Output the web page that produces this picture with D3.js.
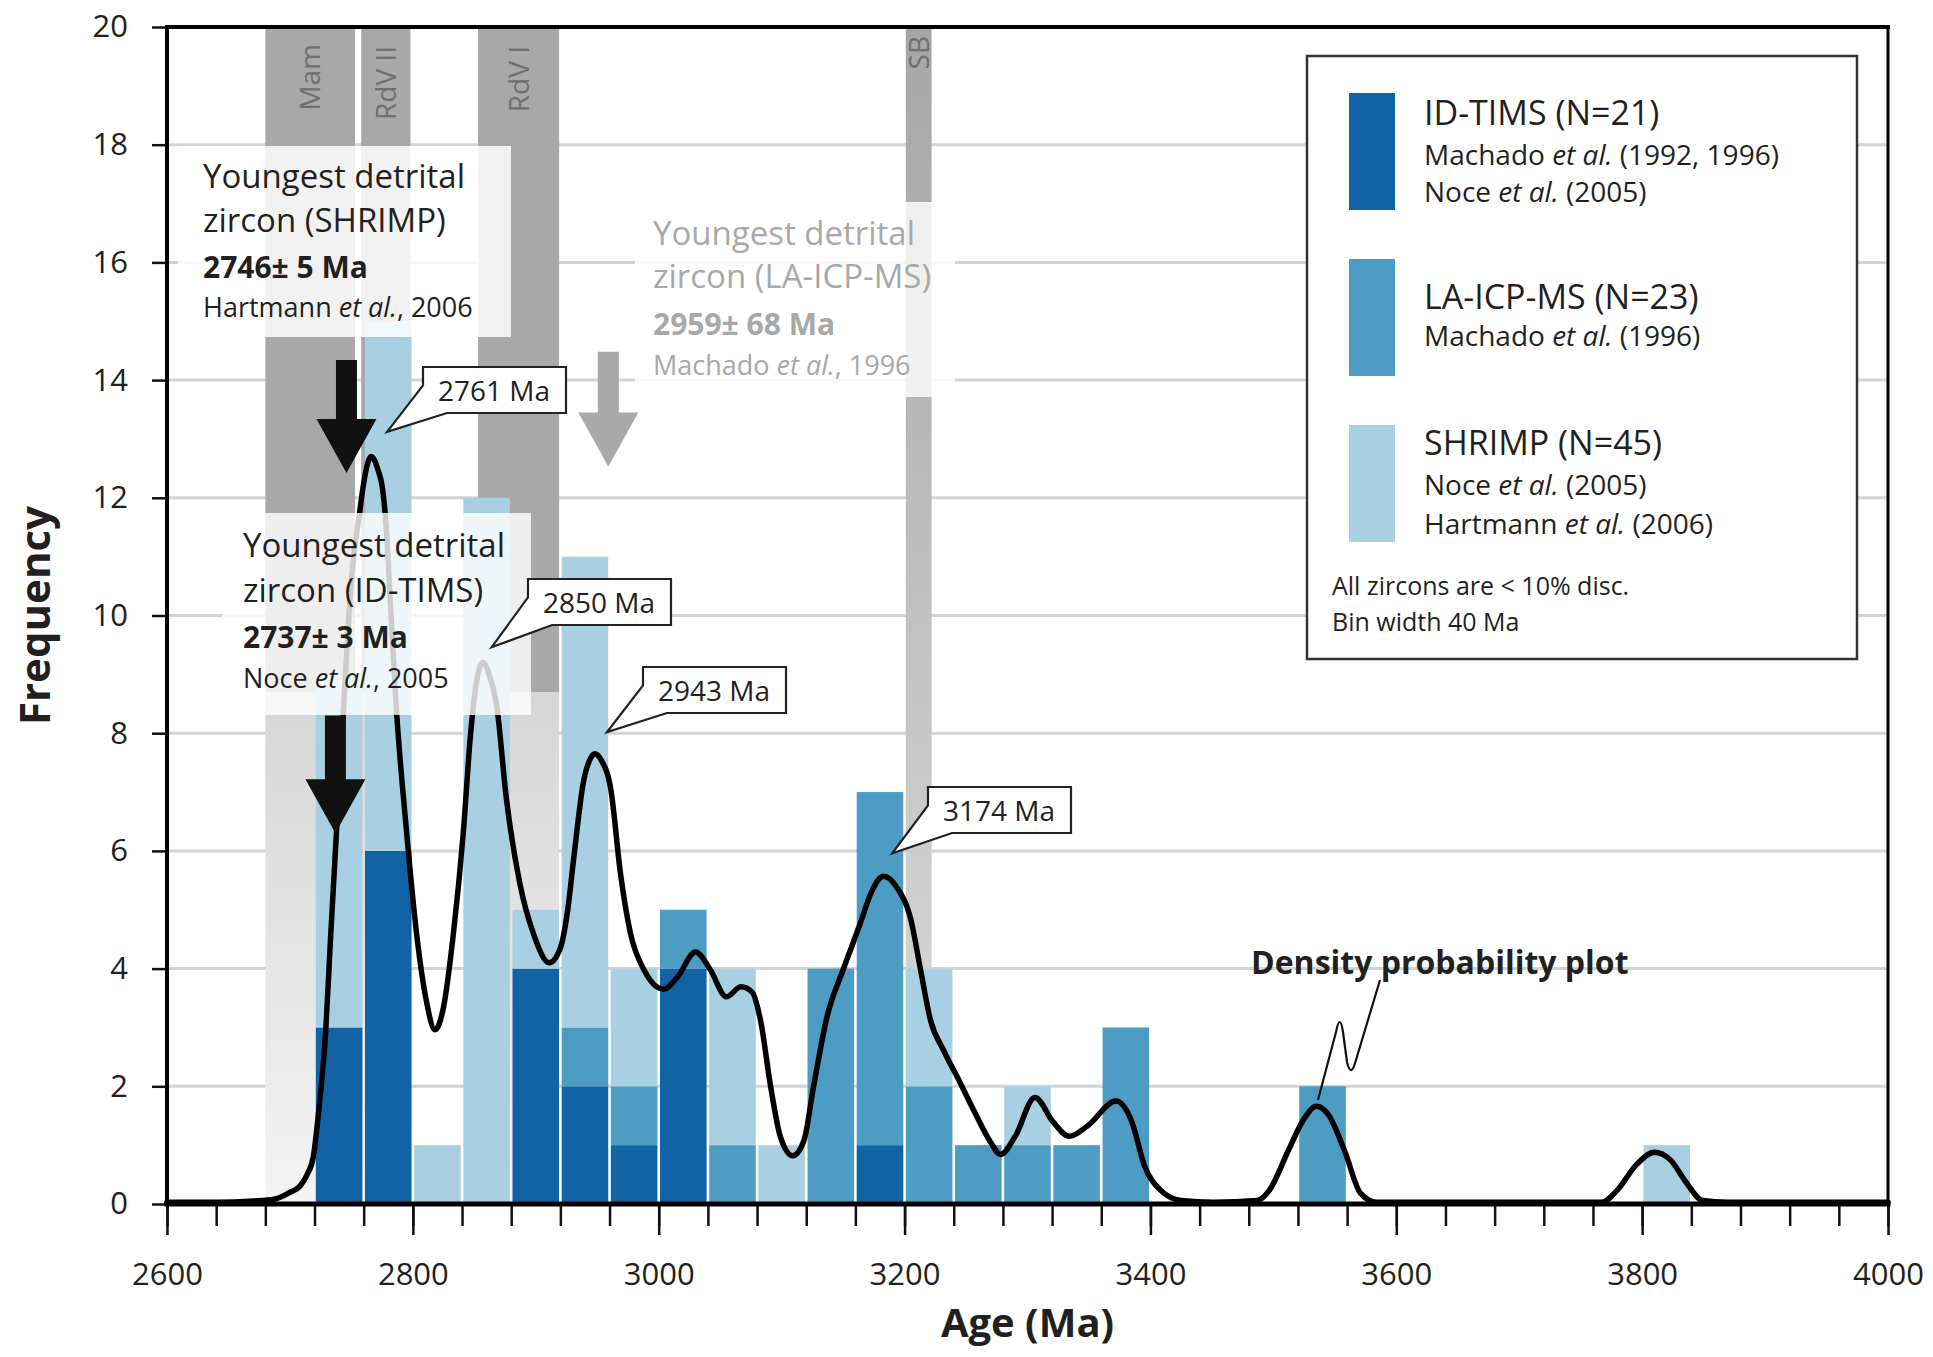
<!DOCTYPE html>
<html>
<head>
<meta charset="utf-8">
<script src="https://cdn.jsdelivr.net/npm/d3@7"></script>
<style>
  html, body { margin: 0; padding: 0; background: #fff; }
  svg { display: block; font-family: "Open Sans", "Noto Sans", sans-serif; }
</style>
</head>
<body>
<svg id="chart" width="1933" height="1357"></svg>
<script>
// ---------- data ----------
// Histogram bins (lower edge, Ma); bin width 40 Ma
const binStarts = [2720, 2760, 2800, 2840, 2880, 2920, 2960, 3000, 3040, 3080, 3120, 3160, 3200, 3240, 3280, 3320, 3360, 3520, 3800];
const binWidth = 40;
const idTimsCounts  = [3, 6, 0, 0, 4, 2, 1, 4, 0, 0, 0, 1, 0, 0, 0, 0, 0, 0, 0];
const laIcpmsCounts = [0, 0, 0, 0, 0, 1, 1, 1, 1, 0, 4, 6, 2, 1, 1, 1, 3, 2, 0];
const shrimpCounts  = [6, 9, 1, 12, 1, 8, 2, 0, 3, 1, 0, 0, 2, 0, 1, 0, 0, 0, 1];
const seriesNames = ["ID-TIMS", "LA-ICP-MS", "SHRIMP"];

// Density probability plot (age in Ma, frequency scale)
const densityAges = [2600, 2640, 2670, 2687, 2700, 2708, 2714, 2719, 2724, 2729, 2733, 2737, 2740, 2743, 2750, 2757, 2760, 2766, 2772, 2775,
  2778, 2782, 2786, 2795, 2803, 2811, 2818, 2825, 2833, 2841, 2847, 2852, 2857, 2862, 2868, 2876, 2887, 2898, 2911, 2920,
  2926, 2931, 2939, 2944, 2948, 2953, 2961, 2969, 2977, 2988, 3004, 3015, 3030, 3042, 3055, 3067, 3076, 3083, 3091, 3099,
  3109, 3118, 3126, 3137, 3150, 3164, 3173, 3183, 3194, 3205, 3213, 3221, 3232, 3245, 3258, 3270, 3278, 3290, 3306, 3321,
  3334, 3349, 3372, 3385, 3395, 3408, 3425, 3451, 3487, 3497, 3512, 3525, 3535, 3545, 3558, 3571, 3584, 3767, 3780, 3795,
  3810, 3823, 3836, 3849, 3870, 4000];
const densityValues = [0.03, 0.03, 0.05, 0.08, 0.2, 0.3, 0.5, 0.8, 1.7, 2.9, 4.5, 6.0, 7.1, 8.2, 10.6, 11.8, 12.25, 12.7, 12.45, 12.2,
  11.6, 10.1, 8.6, 6.3, 4.6, 3.45, 2.96, 3.35, 4.6, 6.3, 8.0, 8.9, 9.2, 9.0, 8.5, 6.9, 5.45, 4.6, 4.1, 4.35,
  5.0, 5.9, 7.2, 7.55, 7.65, 7.55, 7.05, 5.6, 4.6, 3.98, 3.65, 3.85, 4.28, 3.98, 3.52, 3.69, 3.6, 3.1, 2.0, 1.14,
  0.82, 1.07, 2.0, 3.19, 3.98, 4.77, 5.3, 5.57, 5.37, 4.84, 3.98, 3.13, 2.6, 2.07, 1.52, 1.05, 0.84, 1.15, 1.81, 1.39,
  1.15, 1.33, 1.75, 1.39, 0.66, 0.24, 0.06, 0.03, 0.06, 0.24, 0.9, 1.45, 1.66, 1.51, 0.9, 0.18, 0.03, 0.03, 0.24, 0.66,
  0.88, 0.75, 0.36, 0.06, 0.03, 0.03];

// Axis ticks
const xTickValues = [2600, 2800, 3000, 3200, 3400, 3600, 3800, 4000];
const yTickValues = [0, 2, 4, 6, 8, 10, 12, 14, 16, 18, 20];

// Gray age bands (Ma) and their labels
const bandNames = ["Mam", "RdV II", "RdV I", "SB"];
const bandFrom  = [2680, 2758, 2853, 3201];
const bandTo    = [2753, 2798, 2919, 3222];
const bandSolidTo = [8.7, 8.7, 8.7, null];   // frequency level where the solid part ends

// Youngest detrital zircon arrows: age, top and tip (frequency units)
const arrowAges = [2746, 2959, 2737];
const arrowTops = [14.34, 14.48, 8.3];
const arrowTips = [12.42, 12.53, 6.3];

// Peak callouts: label, pointed age and frequency
const peakLabels = ["2761 Ma", "2850 Ma", "2943 Ma", "3174 Ma"];
const peakTipAges = [2779, 2864, 2958, 3190];
const peakTipFreqs = [13.12, 9.46, 8.02, 5.96];

// ---------- layout ----------
const svg = d3.select("#chart");
const plot = { left: 167, right: 1888, top: 27, bottom: 1204 };
const x = d3.scaleLinear().domain([2600, 4000]).range([plot.left, plot.right]);
const y = d3.scaleLinear().domain([0, 20]).range([plot.bottom, plot.top]);

const colors = { "ID-TIMS": "#1163a6", "LA-ICP-MS": "#4d9cc3", "SHRIMP": "#a8d0e2" };
const ink = "#231f20";

const defs = svg.append("defs");
const g1 = defs.append("linearGradient").attr("id", "bandLower").attr("x1", 0).attr("y1", 0).attr("x2", 0).attr("y2", 1);
g1.append("stop").attr("offset", "0%").attr("stop-color", "#d6d6d6");
g1.append("stop").attr("offset", "100%").attr("stop-color", "#f3f3f3");
const g2 = defs.append("linearGradient").attr("id", "bandFull").attr("x1", 0).attr("y1", 0).attr("x2", 0).attr("y2", 1);
g2.append("stop").attr("offset", "0%").attr("stop-color", "#a6a6a6");
g2.append("stop").attr("offset", "100%").attr("stop-color", "#dcdcdc");

// gridlines
svg.append("g").selectAll("line")
  .data(yTickValues.filter(d => d > 0 && d < 20))
  .join("line")
  .attr("x1", plot.left).attr("x2", plot.right)
  .attr("y1", d => y(d)).attr("y2", d => y(d))
  .attr("stroke", "#d3d3d3").attr("stroke-width", 3);

// gray bands
const bandG = svg.append("g");
bandNames.forEach((name, i) => {
  const x0 = x(bandFrom[i]), x1 = x(bandTo[i]);
  if (bandSolidTo[i] !== null) {
    bandG.append("rect").attr("x", x0).attr("width", x1 - x0)
      .attr("y", y(20)).attr("height", y(bandSolidTo[i]) - y(20)).attr("fill", "#a8a8a8");
    bandG.append("rect").attr("x", x0).attr("width", x1 - x0)
      .attr("y", y(bandSolidTo[i])).attr("height", y(0) - y(bandSolidTo[i])).attr("fill", "url(#bandLower)");
  } else {
    bandG.append("rect").attr("x", x0).attr("width", x1 - x0)
      .attr("y", y(20)).attr("height", y(0) - y(20)).attr("fill", "url(#bandFull)");
  }
});
// band labels (rotated)
const bandLabelTop = [44, 46, 46, 36];
bandNames.forEach((name, i) => {
  const cx = (x(bandFrom[i]) + x(bandTo[i])) / 2 + 10;
  bandG.append("text")
    .attr("transform", `translate(${cx},${bandLabelTop[i]}) rotate(-90)`)
    .attr("text-anchor", "end")
    .attr("font-size", 28).attr("fill", "#6f6f6f")
    .text(name);
});

// stacked histogram
const rows = binStarts.map((b, i) => ({
  bin: b, "ID-TIMS": idTimsCounts[i], "LA-ICP-MS": laIcpmsCounts[i], "SHRIMP": shrimpCounts[i]
}));
const layers = d3.stack().keys(seriesNames)(rows);
svg.append("g").selectAll("g").data(layers).join("g")
  .attr("fill", d => colors[d.key])
  .selectAll("rect")
  .data(d => d.filter(s => s[1] - s[0] > 0))
  .join("rect")
  .attr("x", d => x(d.data.bin) + 1.3)
  .attr("width", d => x(d.data.bin + binWidth) - x(d.data.bin) - 2.6)
  .attr("y", d => y(d[1]))
  .attr("height", d => y(d[0]) - y(d[1]));

// density probability curve
const densityPts = densityAges.map((a, i) => [a, densityValues[i]]);
svg.append("path")
  .datum(densityPts)
  .attr("fill", "none").attr("stroke", "#000").attr("stroke-width", 5.5)
  .attr("stroke-linejoin", "round").attr("stroke-linecap", "round")
  .attr("d", d3.line().x(d => x(d[0])).y(d => y(d[1])).curve(d3.curveMonotoneX));

// arrows
const arrowColors = ["#111", "#a9a9a9", "#111"];
arrowAges.forEach((a, i) => {
  const cx = x(a), top = y(arrowTops[i]), tip = y(arrowTips[i]);
  const hw = 10.5, HW = 30, headLen = 54;
  const base = tip - headLen;
  const pts = [[cx - hw, top], [cx + hw, top], [cx + hw, base], [cx + HW, base], [cx, tip], [cx - HW, base], [cx - hw, base]];
  svg.append("polygon").attr("points", pts.map(p => p.join(",")).join(" ")).attr("fill", arrowColors[i]);
});

// translucent annotation boxes
function textBlock(g, x0, lines, color) {
  lines.forEach(l => {
    const t = g.append("text").attr("x", x0).attr("y", l.y).attr("font-size", l.size)
      .attr("fill", color).attr("font-weight", l.bold ? 700 : 400);
    l.parts.forEach(p => {
      t.append("tspan").attr("font-style", p.i ? "italic" : "normal").text(p.t);
    });
  });
}
const annot = svg.append("g");
annot.append("rect").attr("x", 178).attr("y", 146).attr("width", 333).attr("height", 191).attr("fill", "#fff").attr("opacity", 0.84);
annot.append("rect").attr("x", 222).attr("y", 513).attr("width", 309).attr("height", 202).attr("fill", "#fff").attr("opacity", 0.8);
annot.append("rect").attr("x", 635).attr("y", 202).attr("width", 320).attr("height", 195).attr("fill", "#fff").attr("opacity", 0.8);

textBlock(annot, 203, [
  { y: 188, size: 33, parts: [{ t: "Youngest detrital" }] },
  { y: 232, size: 33, parts: [{ t: "zircon (SHRIMP)" }] },
  { y: 278, size: 30, bold: true, parts: [{ t: "2746\u00b1 5 Ma" }] },
  { y: 317, size: 27, parts: [{ t: "Hartmann " }, { t: "et al.", i: true }, { t: ", 2006" }] }
], ink);
textBlock(annot, 243, [
  { y: 557, size: 33, parts: [{ t: "Youngest detrital" }] },
  { y: 602, size: 33, parts: [{ t: "zircon (ID-TIMS)" }] },
  { y: 648, size: 30, bold: true, parts: [{ t: "2737\u00b1 3 Ma" }] },
  { y: 688, size: 27, parts: [{ t: "Noce " }, { t: "et al.", i: true }, { t: ", 2005" }] }
], ink);
textBlock(annot, 653, [
  { y: 245, size: 33, parts: [{ t: "Youngest detrital" }] },
  { y: 288, size: 33, parts: [{ t: "zircon (LA-ICP-MS)" }] },
  { y: 335, size: 30, bold: true, parts: [{ t: "2959\u00b1 68 Ma" }] },
  { y: 375, size: 27, parts: [{ t: "Machado " }, { t: "et al.", i: true }, { t: ", 1996" }] }
], "#a8a8a8");

// peak callouts (speech-bubble boxes)
const calloutBoxes = [[423, 367], [528, 579], [643, 667], [928, 787]];
const cw = 143, ch = 46;
peakLabels.forEach((lab, i) => {
  const [bx, by] = calloutBoxes[i];
  const tx = x(peakTipAges[i]), ty = y(peakTipFreqs[i]);
  const path = `M${tx},${ty} L${bx},${by + ch * 0.4} L${bx},${by} L${bx + cw},${by} L${bx + cw},${by + ch} L${bx + 24},${by + ch} Z`;
  svg.append("path").attr("d", path).attr("fill", "#fff").attr("stroke", "#222").attr("stroke-width", 2.2).attr("stroke-linejoin", "miter");
  svg.append("text").attr("x", bx + 15).attr("y", by + ch - 12).attr("font-size", 28).attr("fill", ink).text(lab);
});

// density plot label with leader
svg.append("text").attr("x", 1251).attr("y", 974).attr("font-size", 32).attr("font-weight", 700).attr("fill", ink)
  .text("Density probability plot");
svg.append("path")
  .attr("d", "M1380,980 L1356,1060 Q1351,1079 1347,1062 L1343,1032 Q1340,1012 1336,1032 L1318,1100")
  .attr("fill", "none").attr("stroke", "#111").attr("stroke-width", 2.2);

// legend
const leg = svg.append("g");
leg.append("rect").attr("x", 1307).attr("y", 56).attr("width", 550).attr("height", 603)
  .attr("fill", "#fff").attr("stroke", "#333").attr("stroke-width", 2.5);
const swatchTops = [93, 259, 425];
seriesNames.forEach((s, i) => {
  leg.append("rect").attr("x", 1349).attr("y", swatchTops[i]).attr("width", 46).attr("height", 117).attr("fill", colors[s]);
});
textBlock(leg, 1424, [
  { y: 125, size: 34, parts: [{ t: "ID-TIMS (N=21)" }] },
  { y: 165, size: 28, parts: [{ t: "Machado " }, { t: "et al.", i: true }, { t: " (1992, 1996)" }] },
  { y: 202, size: 28, parts: [{ t: "Noce " }, { t: "et al.", i: true }, { t: " (2005)" }] },
  { y: 309, size: 34, parts: [{ t: "LA-ICP-MS (N=23)" }] },
  { y: 346, size: 28, parts: [{ t: "Machado " }, { t: "et al.", i: true }, { t: " (1996)" }] },
  { y: 455, size: 34, parts: [{ t: "SHRIMP (N=45)" }] },
  { y: 495, size: 28, parts: [{ t: "Noce " }, { t: "et al.", i: true }, { t: " (2005)" }] },
  { y: 534, size: 28, parts: [{ t: "Hartmann " }, { t: "et al.", i: true }, { t: " (2006)" }] }
], ink);
textBlock(leg, 1332, [
  { y: 595, size: 25, parts: [{ t: "All zircons are < 10% disc." }] },
  { y: 631, size: 25, parts: [{ t: "Bin width 40 Ma" }] }
], ink);

// axes
const yAxis = svg.append("g").attr("transform", `translate(${plot.left},0)`)
  .call(d3.axisLeft(y).tickValues(yTickValues).tickSize(15).tickPadding(24).tickFormat(d3.format("d")));
const xAxisMinor = svg.append("g").attr("transform", `translate(0,${plot.bottom})`)
  .call(d3.axisBottom(x).tickValues(d3.range(2600, 4001, binWidth)).tickSize(22).tickFormat(""));
const xAxis = svg.append("g").attr("transform", `translate(0,${plot.bottom})`)
  .call(d3.axisBottom(x).tickValues(xTickValues).tickSize(31).tickPadding(28).tickFormat(d3.format("d")));
[yAxis, xAxis, xAxisMinor].forEach(a => {
  a.select(".domain").remove();
  a.selectAll(".tick line").attr("stroke", "#111").attr("stroke-width", 2.5);
  a.selectAll(".tick text").attr("font-family", "'Open Sans', sans-serif").attr("font-size", 31).attr("fill", ink);
});

// frame
const frame = svg.append("g").attr("stroke", "#000").attr("stroke-linecap", "square");
frame.append("line").attr("x1", plot.left).attr("x2", plot.right).attr("y1", plot.top).attr("y2", plot.top).attr("stroke-width", 4);
frame.append("line").attr("x1", plot.right).attr("x2", plot.right).attr("y1", plot.top).attr("y2", plot.bottom).attr("stroke-width", 3);
frame.append("line").attr("x1", plot.left).attr("x2", plot.left).attr("y1", plot.top).attr("y2", plot.bottom).attr("stroke-width", 4);
frame.append("line").attr("x1", plot.left).attr("x2", plot.right).attr("y1", plot.bottom).attr("y2", plot.bottom).attr("stroke-width", 5);

// axis titles
svg.append("text").attr("x", (plot.left + plot.right) / 2).attr("y", 1337)
  .attr("text-anchor", "middle").attr("font-size", 40).attr("font-weight", 700).attr("fill", ink)
  .text("Age (Ma)");
svg.append("text").attr("transform", `translate(50,${(plot.top + plot.bottom) / 2}) rotate(-90)`)
  .attr("text-anchor", "middle").attr("font-size", 42).attr("font-weight", 700).attr("fill", ink)
  .text("Frequency");
</script>
</body>
</html>
